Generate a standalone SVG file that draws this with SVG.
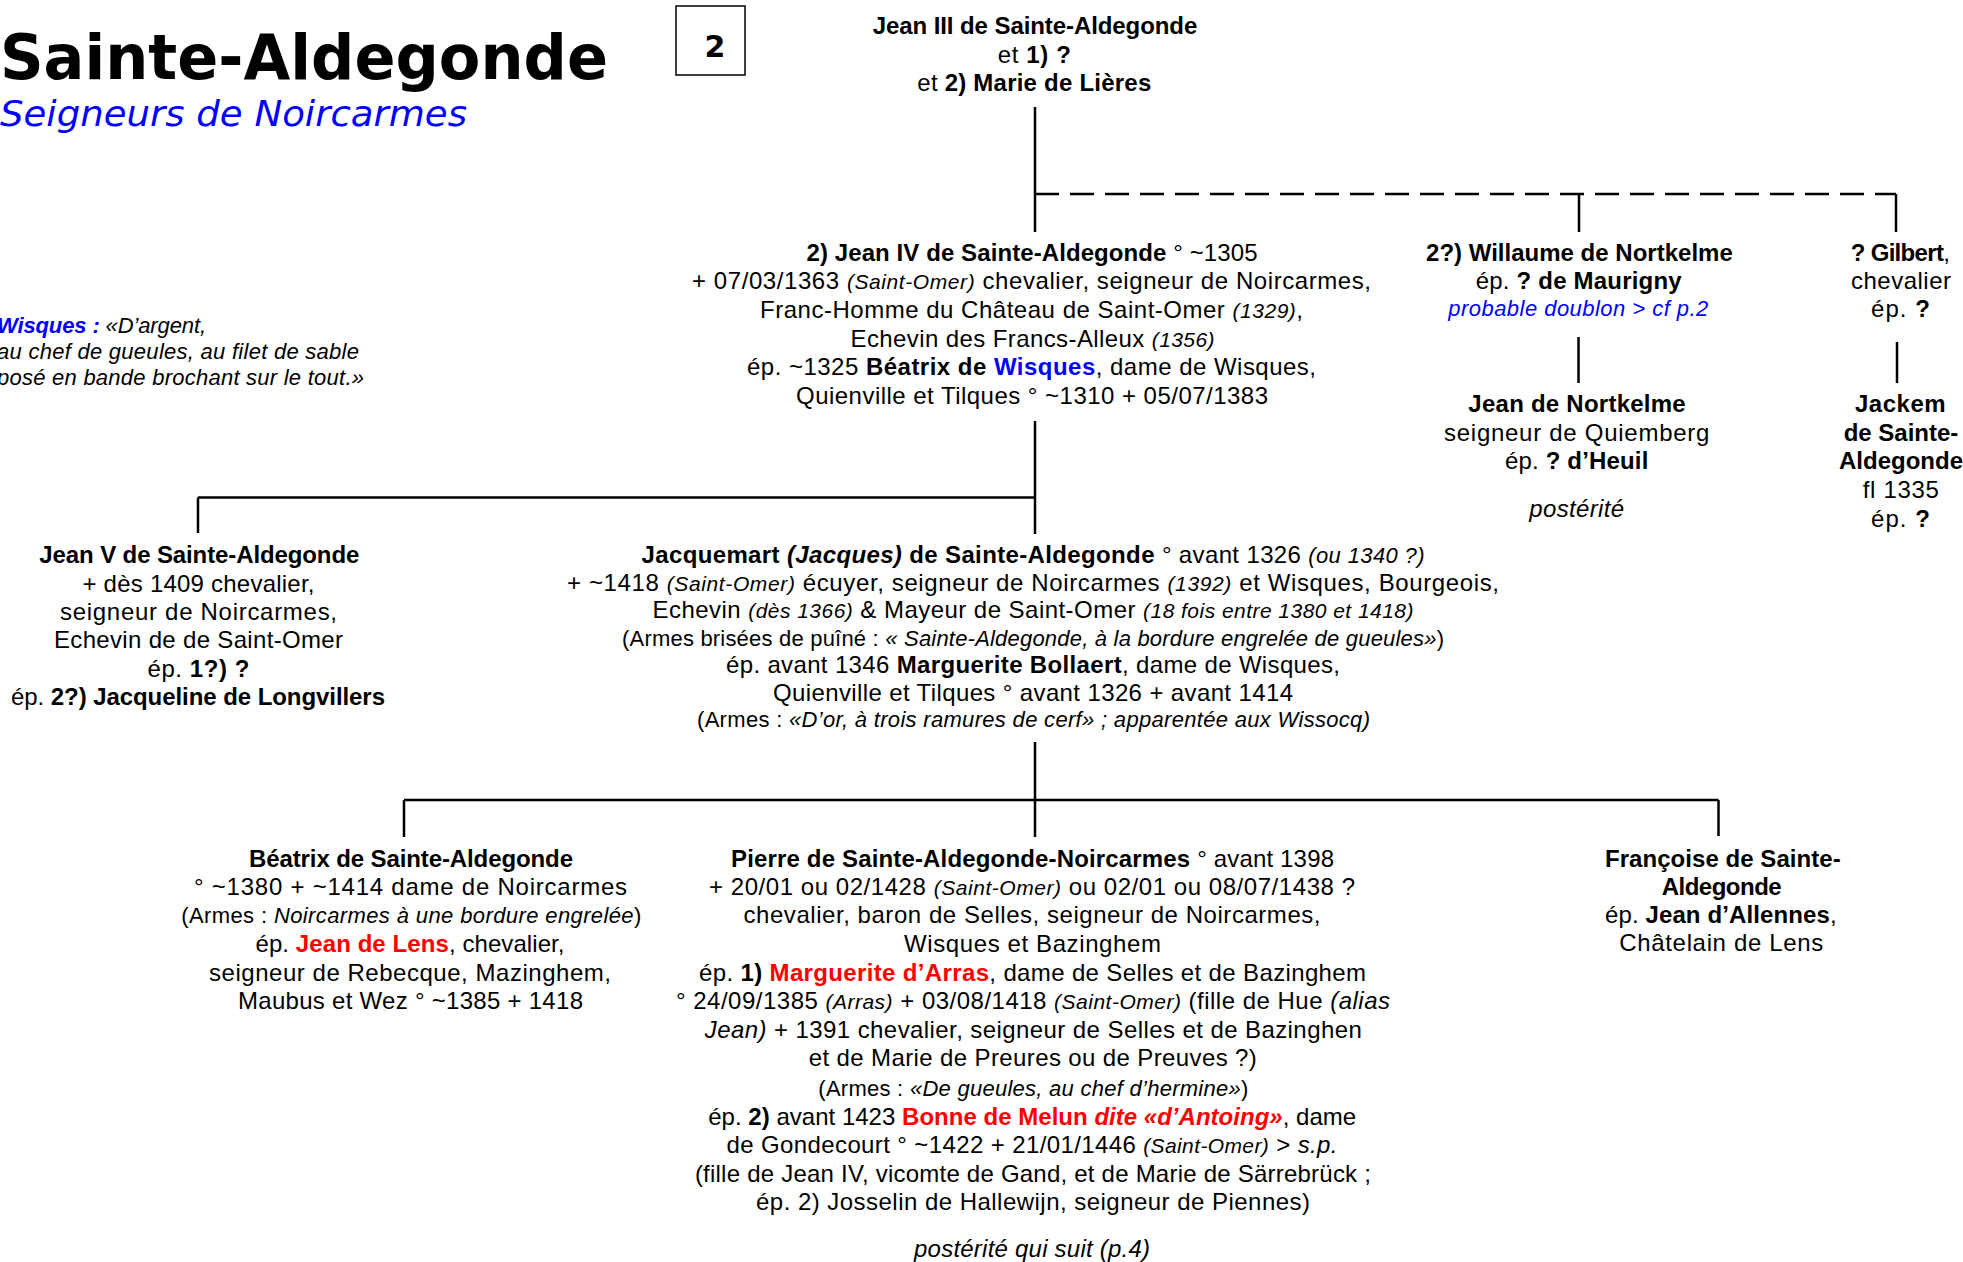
<svg xmlns="http://www.w3.org/2000/svg" width="1963" height="1262" viewBox="0 0 1963 1262">
<style>
.t{font-family:"Liberation Sans",Arial,sans-serif;font-size:24px;text-anchor:middle;fill:#000}
.b{font-weight:bold}
.i{font-style:italic}
.s{font-size:21px}
.m{font-size:22px}
.red{fill:#ff0000}
.blue{fill:#0000ff}
.ln{stroke:#000;stroke-width:2.5;fill:none}
.dash{stroke:#000;stroke-width:2.5;fill:none;stroke-dasharray:24 11}
</style>
<rect width="1963" height="1262" fill="#fff"/>
<g id="title">
<text x="0" y="79" font-family="'DejaVu Sans',Verdana,sans-serif" font-weight="bold" font-size="63" textLength="608" lengthAdjust="spacingAndGlyphs">Sainte-Aldegonde</text>
<text x="0" y="126" font-family="'DejaVu Sans',Verdana,sans-serif" font-style="italic" font-size="36" fill="#0000ff" textLength="467" lengthAdjust="spacingAndGlyphs">Seigneurs de Noircarmes</text>
</g>
<g id="page-number">
<rect x="676" y="6" width="69" height="69" fill="none" stroke="#000" stroke-width="1.5"/>
<text x="715" y="57" font-family="'DejaVu Sans',Verdana,sans-serif" font-weight="bold" font-size="30" text-anchor="middle">2</text>
</g>
<g id="wisques-arms">
<text class="t i m" style="text-anchor:start" x="-3" y="333.3" textLength="209"><tspan class="b blue">Wisques :</tspan> «D’argent,</text>
<text class="t i m" style="text-anchor:start" x="-3" y="359" textLength="362">au chef de gueules, au filet de sable</text>
<text class="t i m" style="text-anchor:start" x="-3" y="385" textLength="367">posé en bande brochant sur le tout.»</text>
</g>
<g id="connectors">
<path class="ln" d="M1035 107V232"/>
<path class="dash" d="M1035 194H1896"/>
<path class="ln" d="M1896 194V232"/>
<path class="ln" d="M1579 194V232"/>
<path class="ln" d="M1578.5 337V383"/>
<path class="ln" d="M1897 342V383"/>
<path class="ln" d="M1035 421V534"/>
<path class="ln" d="M198 497.5H1035"/>
<path class="ln" d="M198 497.5V533"/>
<path class="ln" d="M1035 742V837"/>
<path class="ln" d="M404 800H1718.5"/>
<path class="ln" d="M404 800V837"/>
<path class="ln" d="M1718.5 800V836"/>
</g>
<g id="jean-iii">
<text class="t b" x="1035" y="33.5" textLength="324.5">Jean III de Sainte-Aldegonde</text>
<text class="t" x="1034.3" y="62.5" textLength="73">et <tspan class="b">1) ?</tspan></text>
<text class="t" x="1034.3" y="91" textLength="234">et <tspan class="b">2) Marie de Lières</tspan></text>
</g>
<g id="jean-iv">
<text class="t" x="1032" y="260.7" textLength="451"><tspan class="b">2) Jean IV de Sainte-Aldegonde</tspan> ° ~1305</text>
<text class="t" x="1031.5" y="289" textLength="679">+ 07/03/1363 <tspan class="i s">(Saint-Omer)</tspan> chevalier, seigneur de Noircarmes,</text>
<text class="t" x="1031.5" y="318" textLength="543">Franc-Homme du Château de Saint-Omer <tspan class="i s">(1329)</tspan>,</text>
<text class="t" x="1032.5" y="346.5" textLength="364">Echevin des Francs-Alleux <tspan class="i s">(1356)</tspan></text>
<text class="t" x="1031.5" y="375" textLength="569">ép. ~1325 <tspan class="b">Béatrix de </tspan><tspan class="b blue">Wisques</tspan>, dame de Wisques,</text>
<text class="t" x="1032" y="404" textLength="472">Quienville et Tilques ° ~1310 + 05/07/1383</text>
</g>
<g id="willaume">
<text class="t b" x="1579.4" y="260.7" textLength="306.7">2?) Willaume de Nortkelme</text>
<text class="t" x="1578.7" y="289" textLength="206">ép. <tspan class="b">? de Maurigny</tspan></text>
<text class="t i m blue" x="1578.3" y="316" textLength="260">probable doublon &gt; cf p.2</text>
</g>
<g id="jean-nortkelme">
<text class="t b" x="1577" y="411.7" textLength="217.3">Jean de Nortkelme</text>
<text class="t" x="1576.7" y="440.7" textLength="265.3">seigneur de Quiemberg</text>
<text class="t" x="1576.7" y="469.3" textLength="143.3">ép. <tspan class="b">? d’Heuil</tspan></text>
<text class="t i" x="1576.7" y="516.7" textLength="94.7">postérité</text>
</g>
<g id="gilbert">
<text class="t" x="1900.3" y="260.7" textLength="99.3"><tspan class="b">? Gilbert</tspan>,</text>
<text class="t" x="1901" y="289" textLength="100">chevalier</text>
<text class="t" x="1900.5" y="317.3" textLength="59">ép. <tspan class="b">?</tspan></text>
</g>
<g id="jackem">
<text class="t b" x="1900.3" y="411.7" textLength="90.7">Jackem</text>
<text class="t b" x="1901" y="440.7">de Sainte-</text>
<text class="t b" x="1901" y="469.3">Aldegonde</text>
<text class="t" x="1900.8" y="498.3" textLength="76.3">fl 1335</text>
<text class="t" x="1900.5" y="526.7" textLength="59">ép. <tspan class="b">?</tspan></text>
</g>
<g id="jean-v">
<text class="t b" x="199.3" y="563.3" textLength="320">Jean V de Sainte-Aldegonde</text>
<text class="t" x="198.5" y="591.7" textLength="232">+ dès 1409 chevalier,</text>
<text class="t" x="198.5" y="620" textLength="277">seigneur de Noircarmes,</text>
<text class="t" x="198.5" y="648.3" textLength="289">Echevin de de Saint-Omer</text>
<text class="t" x="198.5" y="676.7" textLength="102">ép. <tspan class="b">1?) ?</tspan></text>
<text class="t" x="198" y="705" textLength="374">ép. <tspan class="b">2?) Jacqueline de Longvillers</tspan></text>
</g>
<g id="jacquemart">
<text class="t" x="1033" y="563.3" textLength="783"><tspan class="b">Jacquemart </tspan><tspan class="b i">(Jacques)</tspan><tspan class="b"> de Sainte-Aldegonde</tspan> ° avant 1326 <tspan class="i m">(ou 1340 ?)</tspan></text>
<text class="t" x="1033" y="591" textLength="932">+ ~1418 <tspan class="i s">(Saint-Omer)</tspan> écuyer, seigneur de Noircarmes <tspan class="i s">(1392)</tspan> et Wisques, Bourgeois,</text>
<text class="t" x="1033" y="618" textLength="761">Echevin <tspan class="i s">(dès 1366)</tspan> &amp; Mayeur de Saint-Omer <tspan class="i s">(18 fois entre 1380 et 1418)</tspan></text>
<text class="t m" x="1033" y="645.5" textLength="822">(Armes brisées de puîné : <tspan class="i">« Sainte-Aldegonde, à la bordure engrelée de gueules»</tspan>)</text>
<text class="t" x="1033" y="673" textLength="614">ép. avant 1346 <tspan class="b">Marguerite Bollaert</tspan>, dame de Wisques,</text>
<text class="t" x="1033" y="700.5" textLength="520">Quienville et Tilques ° avant 1326 + avant 1414</text>
<text class="t m" x="1033.5" y="727" textLength="673">(Armes : <tspan class="i">«D’or, à trois ramures de cerf» ; apparentée aux Wissocq)</tspan></text>
</g>
<g id="beatrix">
<text class="t b" x="411" y="866.7" textLength="324">Béatrix de Sainte-Aldegonde</text>
<text class="t" x="410.5" y="894.5" textLength="433">° ~1380 + ~1414 dame de Noircarmes</text>
<text class="t m" x="411.3" y="922.7" textLength="460">(Armes : <tspan class="i">Noircarmes à une bordure engrelée</tspan>)</text>
<text class="t" x="410" y="951.7" textLength="309">ép. <tspan class="b red">Jean de Lens</tspan>, chevalier,</text>
<text class="t" x="410" y="980.5" textLength="402">seigneur de Rebecque, Mazinghem,</text>
<text class="t" x="410.5" y="1009.3" textLength="345">Maubus et Wez ° ~1385 + 1418</text>
</g>
<g id="pierre">
<text class="t" x="1032.5" y="866.7" textLength="603"><tspan class="b">Pierre de Sainte-Aldegonde-Noircarmes</tspan> ° avant 1398</text>
<text class="t" x="1032" y="894.5" textLength="646">+ 20/01 ou 02/1428 <tspan class="i s">(Saint-Omer)</tspan> ou 02/01 ou 08/07/1438 ?</text>
<text class="t" x="1032" y="922.7" textLength="577">chevalier, baron de Selles, seigneur de Noircarmes,</text>
<text class="t" x="1032.5" y="951.7" textLength="257">Wisques et Bazinghem</text>
<text class="t" x="1032.5" y="980.5" textLength="667">ép. <tspan class="b">1)</tspan> <tspan class="b red">Marguerite d’Arras</tspan>, dame de Selles et de Bazinghem</text>
<text class="t" x="1033" y="1009.3" textLength="714">° 24/09/1385 <tspan class="i s">(Arras)</tspan> + 03/08/1418 <tspan class="i s">(Saint-Omer)</tspan> (fille de Hue <tspan class="i">(alias</tspan></text>
<text class="t" x="1033.3" y="1037.7" textLength="657"><tspan class="i">Jean)</tspan> + 1391 chevalier, seigneur de Selles et de Bazinghen</text>
<text class="t" x="1032.8" y="1066" textLength="448">et de Marie de Preures ou de Preuves ?)</text>
<text class="t m" x="1033.3" y="1095.5" textLength="430">(Armes : <tspan class="i">«De gueules, au chef d’hermine»</tspan>)</text>
<text class="t" x="1032.2" y="1125" textLength="648">ép. <tspan class="b">2)</tspan> avant 1423 <tspan class="b red">Bonne de Melun </tspan><tspan class="b i red">dite «d’Antoing»</tspan>, dame</text>
<text class="t" x="1032" y="1153.3" textLength="611">de Gondecourt ° ~1422 + 21/01/1446 <tspan class="i s">(Saint-Omer)</tspan> &gt; <tspan class="i">s.p.</tspan></text>
<text class="t" x="1032.9" y="1181.7" textLength="676">(fille de Jean IV, vicomte de Gand, et de Marie de Särrebrück ;</text>
<text class="t" x="1033" y="1210" textLength="554">ép. 2) Josselin de Hallewijn, seigneur de Piennes)</text>
<text class="t i" x="1032" y="1256.7" textLength="236">postérité qui suit (p.4)</text>
</g>
<g id="francoise">
<text class="t b" x="1722.8" y="866.7" textLength="235.7">Françoise de Sainte-</text>
<text class="t b" x="1721.7" y="894.5" textLength="120">Aldegonde</text>
<text class="t" x="1720.8" y="922.5" textLength="231.7">ép. <tspan class="b">Jean d’Allennes</tspan>,</text>
<text class="t" x="1721.3" y="950.7" textLength="204">Châtelain de Lens</text>
</g>
</svg>
